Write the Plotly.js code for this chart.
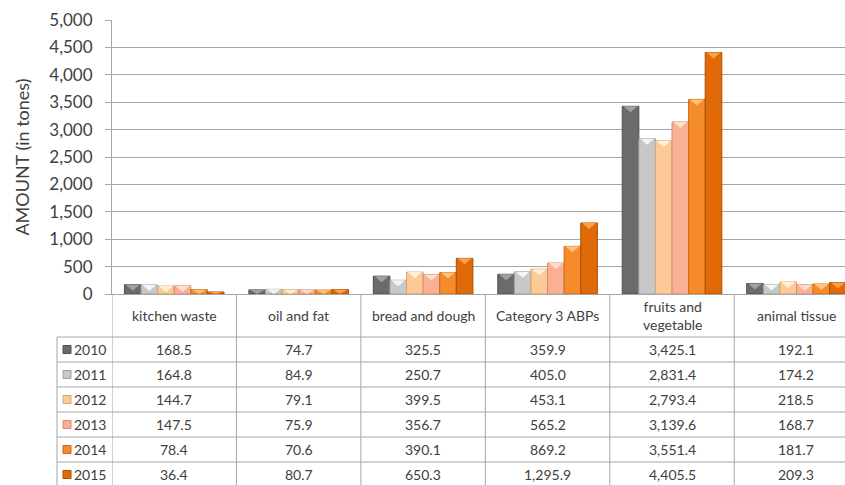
<!DOCTYPE html>
<html>
<head>
<meta charset="utf-8">
<script src="https://cdn.plot.ly/plotly-3.0.1.min.js"></script>
<style>
  html, body { margin: 0; padding: 0; background: #ffffff; }
  #chart { width: 845px; height: 485px; }
</style>
</head>
<body>
<div id="chart"></div>
<script>
// Food waste collected per category, in tonnes
const categories = ["kitchen waste", "oil and fat", "bread and dough", "Category 3 ABPs", "fruits and<br>vegetable", "animal tissue"];
const years = ["2010", "2011", "2012", "2013", "2014", "2015"];
const v2010 = [168.5, 74.7, 325.5, 359.9, 3425.1, 192.1];
const v2011 = [164.8, 84.9, 250.7, 405.0, 2831.4, 174.2];
const v2012 = [144.7, 79.1, 399.5, 453.1, 2793.4, 218.5];
const v2013 = [147.5, 75.9, 356.7, 565.2, 3139.6, 168.7];
const v2014 = [78.4, 70.6, 390.1, 869.2, 3551.4, 181.7];
const v2015 = [36.4, 80.7, 650.3, 1295.9, 4405.5, 209.3];
const yTicks = [0, 500, 1000, 1500, 2000, 2500, 3000, 3500, 4000, 4500, 5000];

const series = [v2010, v2011, v2012, v2013, v2014, v2015];
const fills = ["#6b6b6b", "#c8c8c8", "#fdc996", "#f9b093", "#f68b2c", "#e16a08"];
const edges = ["#4f4f4f", "#a0a0a0", "#d9a570", "#d48c70", "#c86a18", "#a94e00"];
const bevels = ["#a0a0a0", "#f4f4f4", "#fff0dc", "#ffdccc", "#ffc27a", "#f9a24a"];

const FONT = "Lato, 'Open Sans', 'Liberation Sans', sans-serif";
const TXT = "#404040";
const GRID = "#a6a6a6";

// plot box in pixels; the last column runs past the right edge of the page
const W = 845, H = 485;
const M = { l: 112, r: 0, t: 20, b: 191 };
const plotW = W - M.l - M.r;
const plotH = H - M.t - M.b;
const zeroPx = M.t + plotH;
const yMax = 5000;
const xRight = 5.39;
const py = p => (zeroPx - p) / plotH;      // pixel row -> paper y
const px = p => (p - M.l) / plotW;         // pixel column -> paper x

const BARGAP = 0.2;
const traces = series.map((vals, i) => ({
  type: "bar",
  name: years[i],
  x: categories,
  y: vals,
  marker: { color: fills[i], line: { color: edges[i], width: 1 } },
  hoverinfo: "x+y+name"
}));

const annotations = [];
const shapes = [];

// bevelled caps on each bar: a light triangle across the top edge
const barW = (1 - BARGAP) / series.length;
const capUnits = 6 * yMax / plotH;
series.forEach((vals, k) => {
  vals.forEach((v, i) => {
    const x0 = i - (1 - BARGAP) / 2 + barW * k + 0.01;
    const x1 = x0 + barW - 0.02;
    const xm = (x0 + x1) / 2;
    const y1 = v;
    const y0 = Math.max(0, v - capUnits);
    shapes.push({
      type: "path", xref: "x", yref: "y", layer: "above",
      path: `M${x0},${y1} L${x1},${y1} L${xm},${y0} Z`,
      fillcolor: bevels[k], line: { width: 0 }
    });
  });
});

// data table under the plot
const headerTop = zeroPx, headerBottom = 337, rowH = 25;
const rowCenters = years.map((_, r) => headerBottom + rowH * r + rowH / 2);
const fmt = v => v.toLocaleString("en-US", { minimumFractionDigits: 1, maximumFractionDigits: 1 });
const cellFont = { family: FONT, size: 14, color: TXT };

categories.forEach((c, i) => {
  annotations.push({
    xref: "x", yref: "paper", x: i, y: py((headerTop + headerBottom) / 2),
    text: c, showarrow: false, xanchor: "center", yanchor: "middle", font: cellFont
  });
});

series.forEach((vals, r) => {
  vals.forEach((v, i) => {
    annotations.push({
      xref: "x", yref: "paper", x: i, y: py(rowCenters[r]),
      text: fmt(v), showarrow: false, xanchor: "center", yanchor: "middle", font: cellFont
    });
  });
  // legend key + year label
  annotations.push({
    xref: "paper", yref: "paper", x: px(72), y: py(rowCenters[r]),
    text: years[r], showarrow: false, xanchor: "left", yanchor: "middle", font: cellFont
  });
  shapes.push({
    type: "rect", xref: "paper", yref: "paper",
    x0: px(63), x1: px(71), y0: py(rowCenters[r] - 4), y1: py(rowCenters[r] + 4),
    fillcolor: fills[r], line: { color: edges[r], width: 1 }
  });
});

// table grid lines
const lineStyle = { color: GRID, width: 1 };
for (let r = 0; r <= years.length; r++) {
  const yy = py(headerBottom + rowH * r);
  shapes.push({ type: "line", xref: "paper", yref: "paper", x0: px(57), x1: 1, y0: yy, y1: yy, line: lineStyle });
}
shapes.push({ type: "line", xref: "paper", yref: "paper", x0: px(57), x1: px(57), y0: py(headerBottom), y1: py(H), line: lineStyle });
for (let i = 0; i < categories.length; i++) {
  shapes.push({ type: "line", xref: "x", yref: "paper", x0: i - 0.5, x1: i - 0.5, y0: 0, y1: py(H), line: lineStyle });
}

const layout = {
  width: W, height: H,
  margin: M,
  paper_bgcolor: "#ffffff",
  plot_bgcolor: "#ffffff",
  showlegend: false,
  barmode: "group",
  bargap: BARGAP,
  bargroupgap: 0,
  xaxis: {
    type: "category",
    range: [-0.5, xRight],
    showticklabels: false,
    showgrid: false,
    zeroline: false,
    showline: true,
    linecolor: GRID,
    linewidth: 1,
    ticks: ""
  },
  yaxis: {
    range: [0, yMax],
    tickvals: yTicks,
    tickformat: ",",
    showgrid: true,
    gridcolor: GRID,
    gridwidth: 1,
    zeroline: false,
    showline: true,
    linecolor: GRID,
    ticks: "outside",
    ticklen: 6,
    tickcolor: GRID,
    ticklabelstandoff: 9,
    tickfont: { family: FONT, size: 17, color: TXT },
    title: { text: "AMOUNT (in tones)", font: { family: FONT, size: 18, color: TXT }, standoff: 14 }
  },
  annotations: annotations,
  shapes: shapes
};

Plotly.newPlot("chart", traces, layout, { displayModeBar: false, staticPlot: true });
</script>
</body>
</html>
